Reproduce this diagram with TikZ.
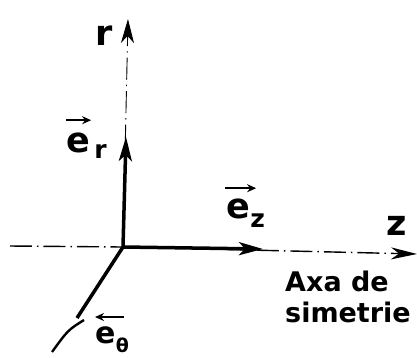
\documentclass[tikz,border=0pt]{standalone}
\usepackage{fontspec}
\setmainfont{DejaVu Sans}
\usetikzlibrary{arrows.meta}

\begin{document}
\begin{tikzpicture}[x=1pt, y=-1pt,
  axis/.style={dash pattern=on 22pt off 5pt on 1.5pt off 5pt},
  vecline/.style={line width=3.5pt, -{Stealth[length=24pt, width=13pt, inset=6pt]}},
  overarr/.style={line width=2.2pt, -{Stealth[length=9pt, width=8pt]}},
  lab/.style={inner sep=0pt, font=\bfseries\fontsize{35}{35}\selectfont},
  sub/.style={inner sep=0pt, font=\bfseries\fontsize{25}{25}\selectfont}]
  \useasboundingbox (0,0) rectangle (417,357);
  % axes
  \coordinate (O) at (123,247);
  \coordinate (rtip) at (128,19);
  \coordinate (zleft) at (10,246);
  \coordinate (ztip) at (417,254);
  \draw[axis, line width=0.9pt, -{Stealth[length=24pt, width=13pt, inset=7pt]}] (O) -- (rtip);
  \draw[axis, line width=1.4pt] (zleft) -- (O);
  \draw[axis, line width=1.4pt, -{Stealth[length=26pt, width=12pt, inset=8pt]}] (O) -- (ztip);
  % unit vectors
  \coordinate (ertip) at (126,137);
  \coordinate (eztip) at (263,249);
  \coordinate (ethend) at (77,318);
  \draw[vecline] (O) -- (ertip);
  \draw[vecline] (O) -- (eztip);
  \draw[line width=3.5pt] (O) -- (ethend);
  \draw[line width=2.4pt] (84,320) .. controls (68,330) .. (52,352);
  % axis names
  \node[lab, anchor=base west] (r) at (95,45) {r};
  \node[lab, anchor=base west] (z) at (386,235) {z};
  % e_r
  \node[lab, anchor=base west] (erE) at (66,152) {e};
  \node[sub, anchor=base west, xshift=4pt, yshift=-6pt] (erS) at (erE.base east) {r};
  \draw[overarr] ([yshift=12pt]erE.north west) -- ([yshift=12pt, xshift=1pt]erE.north east);
  % e_z
  \node[lab, anchor=base west] (ezE) at (226,218) {e};
  \node[sub, anchor=base west, yshift=-9pt] (ezS) at (ezE.base east) {z};
  \draw[overarr] ([yshift=10pt, xshift=-1pt]ezE.north west) -- ([yshift=10pt, xshift=6pt]ezE.north east);
  % e_theta
  \node[lab, font=\bfseries\fontsize{30}{30}\selectfont, anchor=base west] (ethE) at (95,343) {e};
  \node[sub, font=\bfseries\fontsize{19}{19}\selectfont, anchor=base west, yshift=-9pt] (ethS) at (ethE.base east) {θ};
  \draw[overarr] ([yshift=9pt, xshift=8pt]ethE.north east) -- ([yshift=9pt]ethE.north west);
  % label of the z axis
  \node[inner sep=0pt, font=\bfseries\fontsize{27}{31}\selectfont, align=left, anchor=north west] (axa) at (285,271) {Axa de\\simetrie};
\end{tikzpicture}
\end{document}
